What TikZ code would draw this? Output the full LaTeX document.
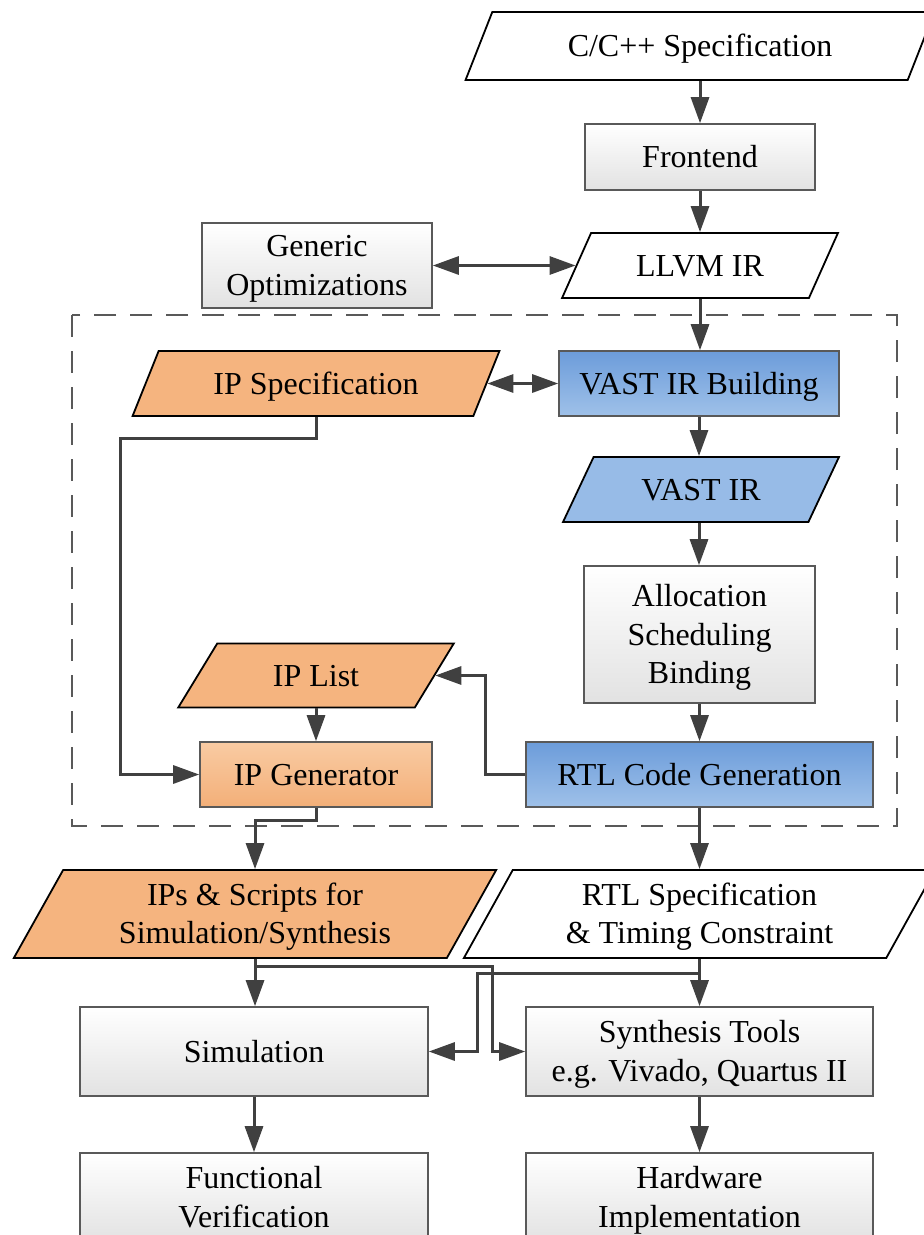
\documentclass[tikz,border=0pt]{standalone}
\usepackage{fontspec}
\setmainfont{Liberation Serif}
\usetikzlibrary{arrows.meta,shapes.geometric,calc}

\definecolor{lnc}{HTML}{404040}
\definecolor{bordc}{HTML}{595959}
\definecolor{greybot}{HTML}{E2E2E2}
\definecolor{bluetop}{HTML}{6C9CDA}
\definecolor{bluebot}{HTML}{9FC1E9}
\definecolor{orng}{HTML}{F5B47F}
\definecolor{orngtop}{HTML}{F9CBA3}
\definecolor{orngbot}{HTML}{F3AF78}

% struts that give every label the same top and bottom, so that the
% capitals sit in the middle of their boxes
\newcommand{\topst}{\rule{0pt}{0.9em}}
\newcommand{\botst}{\rule[-0.24em]{0pt}{0.24em}}

\tikzset{
  lbl/.style={align=center, inner sep=0pt},
  proc/.style={lbl, rectangle, draw=bordc, line width=1.6pt, top color=white,
    bottom color=greybot},
  bproc/.style={proc, top color=bluetop, bottom color=bluebot},
  oproc/.style={proc, top color=orngtop, bottom color=orngbot},
  data/.style={lbl, trapezium, trapezium left angle=65, trapezium right angle=115,
    trapezium stretches=true, draw=black, line width=1.8pt, fill=white},
  bdata/.style={data, fill=bluebot!85!bluetop},
  odata/.style={data, fill=orng},
  conn/.style={draw=lnc, line width=3pt},
  arr/.style={conn, -{Triangle[length=26pt,width=18pt]}},
  arrb/.style={conn, {Triangle[length=26pt,width=18pt]}-{Triangle[length=26pt,width=18pt]}},
  groupbox/.style={draw=bordc, line width=2pt, dash pattern=on 22pt off 14pt}
}

\begin{document}
\begin{tikzpicture}[x=1pt, y=-1pt, font=\fontsize{32}{38.5}\selectfont]
\useasboundingbox (0,0) rectangle (924,1235);
\clip (0,0) rectangle (924,1235);

% HLS core region
\draw[groupbox] (72,315) rectangle (897,826);

% front end
\node[data, minimum width=470pt, minimum height=68pt] (cspec) at (700,46) {\topst C/C++ Specification\botst};
\node[proc, minimum width=230pt, minimum height=66pt] (front) at (700,157) {\topst Frontend\botst};
\node[data, minimum width=276pt, minimum height=65pt] (llvm) at (700,265.5) {\topst LLVM IR\botst};
\node[proc, minimum width=230pt, minimum height=85pt] (genopt) at (317,265.5) {\topst Generic\\Optimizations\botst};

% core flow
\node[odata, minimum width=368pt, minimum height=65pt] (ipspec) at (316,383.5) {\topst IP Specification\botst};
\node[bproc, minimum width=280pt, minimum height=65pt] (vastb) at (699,383.5) {\topst VAST IR Building\botst};
\node[bdata, minimum width=276pt, minimum height=65pt] (vastir) at (701,489.5) {\topst VAST IR\botst};
\node[proc, minimum width=231pt, minimum height=137pt] (alloc) at (699.5,634.5) {\topst Allocation\\Scheduling\\Binding\botst};
\node[odata, minimum width=276pt, minimum height=64pt] (iplist) at (316,675.5) {\topst IP List\botst};
\node[oproc, minimum width=232pt, minimum height=65pt] (ipgen) at (316,774.5) {\topst IP Generator\botst};
\node[bproc, minimum width=347pt, minimum height=65pt] (rtlgen) at (699.5,774.5) {\topst RTL Code Generation\botst};

% outputs and back end
\node[odata, minimum width=484pt, minimum height=88pt] (ipscr) at (255,914) {\topst IPs \& Scripts for\\Simulation/Synthesis\botst};
\node[data, minimum width=472pt, minimum height=88pt] (rtlspec) at (699.5,914) {\topst RTL Specification\\\& Timing Constraint\botst};
\node[proc, minimum width=348pt, minimum height=89pt] (sim) at (254,1051.5) {\topst Simulation\botst};
\node[proc, minimum width=347pt, minimum height=89pt] (synth) at (699.5,1051.5) {\topst Synthesis Tools\\e.g. Vivado, Quartus II\botst};
\node[proc, minimum width=348pt, minimum height=89pt] (fver) at (254,1197.5) {\topst Functional\\Verification\botst};
\node[proc, minimum width=347pt, minimum height=89pt] (hw) at (699.5,1197.5) {\topst Hardware\\Implementation\botst};

% routing columns
\coordinate (colA) at (120,0);
\coordinate (colB) at (485,0);
\coordinate (colC) at (492,0);
\coordinate (colD) at (477,0);

% connectors
\draw[arr] (cspec.south) -- (cspec.south |- front.north);
\draw[arr] (front.south) -- (front.south |- llvm.north);
\draw[arrb] (genopt.east) -- (llvm.left side);
\draw[arr] (llvm.south) -- (llvm.south |- vastb.north);
\draw[arrb] (vastb.west) -- (ipspec.right side);
\draw[arr] (vastb.south) -- (vastb.south |- vastir.north);
\draw[arr] (vastb.south |- vastir.south) -- (vastb.south |- alloc.north);
\draw[arr] (alloc.south) -- (alloc.south |- rtlgen.north);
\draw[arr] (rtlgen.west) -- (rtlgen.west -| colB) |- (iplist.right side);
\draw[arr] (iplist.south) -- (iplist.south |- ipgen.north);
\path (ipspec.south) ++(0,22) coordinate (ipbend);
\draw[arr] (ipspec.south) -- (ipbend) -- (ipbend -| colA) |- (ipgen.west);
\path (ipgen.south) ++(0,13) coordinate (genbend);
\draw[arr] (ipgen.south) -- (genbend) -| (ipscr.north);
\draw[arr] (rtlgen.south) -- (rtlgen.south |- rtlspec.north);

\path (ipscr.south) ++(0,8) coordinate (jA);
\path (rtlspec.south) ++(0,15) coordinate (jB);
\draw[arr] (ipscr.south) -- (ipscr.south |- sim.north);
\draw[arr] (jA) -- (jA -| colC) |- (synth.west);
\draw[arr] (rtlspec.south) -- (rtlspec.south |- synth.north);
\draw[arr] (jB) -- (jB -| colD) |- (sim.east);
\draw[arr] (sim.south) -- (sim.south |- fver.north);
\draw[arr] (synth.south) -- (synth.south |- hw.north);
\end{tikzpicture}
\end{document}
